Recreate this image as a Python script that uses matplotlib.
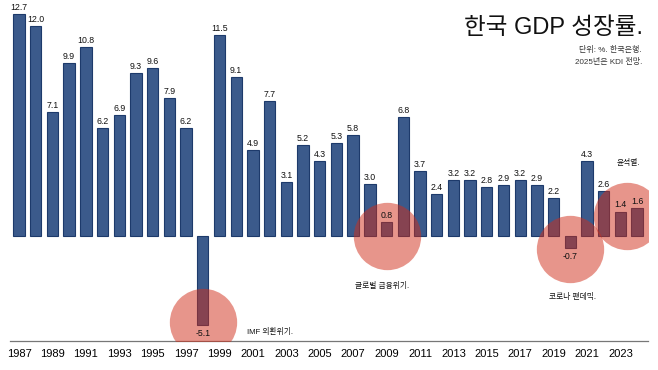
import numpy as np
import matplotlib.pyplot as plt

years = list(range(1987, 2025))
growth = [12.7, 12.0, 7.1, 9.9, 10.8, 6.2, 6.9, 9.3, 9.6, 7.9, 6.2, -5.1,
          11.5, 9.1, 4.9, 7.7, 3.1, 5.2, 4.3, 5.3, 5.8, 3.0, 0.8, 6.8, 3.7,
          2.4, 3.2, 3.2, 2.8, 2.9, 3.2, 2.9, 2.2, -0.7, 4.3, 2.6, 1.4, 1.6]
tick_years = list(range(1987, 2025, 2))

# highlighted events: (x, y) centres in data units
circle_x = [1998, 2009, 2020, 2023.4]
circle_y = [-4.9, 0.0, -0.75, 1.15]
notes = ["IMF 외환위기.", "글로벌 금융위기.", "코로나 팬데믹.", "윤석열."]
note_x = [2000.65, 2007.1, 2018.7, 2022.75]
note_y = [-5.5, -2.86, -3.49, 4.17]

FONT = ['Liberation Sans', 'Noto Sans CJK KR', 'DejaVu Sans']
plt.rcParams['font.family'] = FONT

fig = plt.figure(figsize=(6.58, 3.70), dpi=100)
ax = fig.add_axes([10 / 658, 29 / 370, 638 / 658, 341 / 370])

ax.bar(years, growth, width=0.68, color='#3b5a8b', edgecolor='#1d3a6b',
       linewidth=0.8, zorder=2)

for x, v in zip(years, growth):
    if v >= 0:
        ax.text(x, v + 0.12, f"{v:.1f}", ha='center', va='bottom', fontsize=6.3,
                color='#111111', zorder=4)
    else:
        ax.text(x, v - 0.2, f"{v:.1f}", ha='center', va='top', fontsize=6.3,
                color='#111111', zorder=4)

ax.scatter(circle_x, circle_y, s=2350, color='#d12d19', alpha=0.5,
           linewidths=0, zorder=3)

for t, x, y in zip(notes, note_x, note_y):
    ax.text(x, y, t, fontsize=5.6, color='#111111', ha='left', va='center', zorder=4)

ax.set_xlim(1986.46, 2024.65)
ax.set_ylim(-6.0, 13.5)
ax.set_xticks(tick_years)
ax.set_xticklabels([str(y) for y in tick_years], fontsize=8)
ax.tick_params(axis='x', length=0, pad=6)
ax.set_yticks([])
for side in ['top', 'right', 'left']:
    ax.spines[side].set_visible(False)
ax.spines['bottom'].set_color('#777777')
ax.spines['bottom'].set_linewidth(0.9)

fig.text(643 / 658, 1 - 28 / 370, "한국 GDP 성장률.", ha='right', va='center',
         fontsize=17, color='#111111')
fig.text(642 / 658, 1 - 50 / 370, "단위: %. 한국은행.", ha='right', va='center',
         fontsize=5.8, color='#333333')
fig.text(642 / 658, 1 - 62 / 370, "2025년은 KDI 전망.", ha='right', va='center',
         fontsize=5.8, color='#333333')

fig.savefig('out.png', dpi=100)
